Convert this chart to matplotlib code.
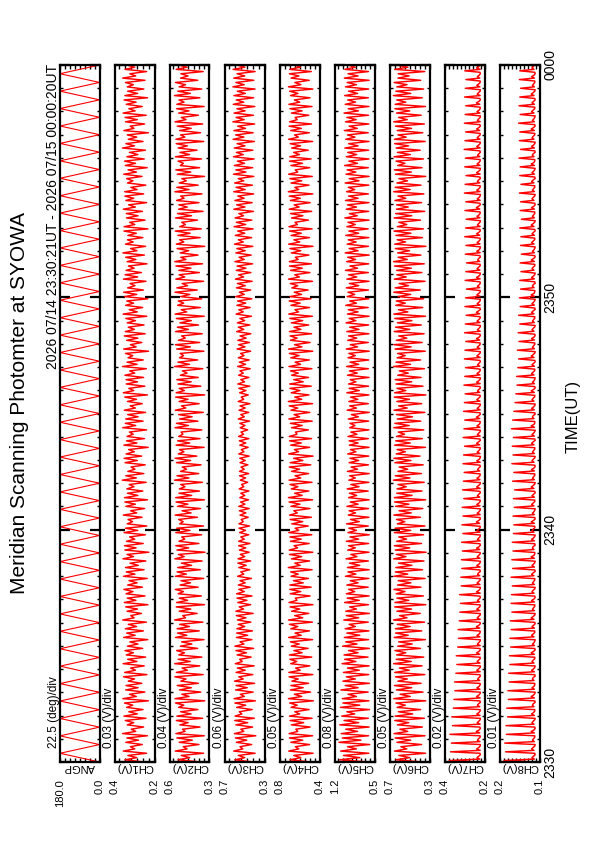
import matplotlib
matplotlib.use('Agg')
import matplotlib.pyplot as plt
import numpy as np
from matplotlib.ticker import FixedLocator

plt.rcParams['font.family'] = ['Liberation Sans', 'DejaVu Sans']

# ---------------- data ----------------
TIME_LABELS = ['2330', '2340', '2350', '0000']
TIME_TICKS = [0, 10, 20, 30]          # minutes after 23:30

ANGP = [0, 180, 0, 180, 0, 180, 0, 180, 0, 180, 0, 180, 0, 180, 0, 180, 0, 180, 0, 180,
        0, 180, 0, 180, 0, 180, 0, 180, 0, 180, 0, 180, 0, 180, 0, 180, 0, 180, 0, 180,
        0, 180, 0, 180, 0, 180, 0, 180, 0, 180, 0, 180, 0, 180, 0, 180, 0, 180, 0, 180,
        0, 180, 0, 180, 0, 180, 0, 180, 0, 180, 0, 180, 0, 180, 0, 180, 0, 180, 0, 180, 0]

# channel values in mV
CH1 = [250,350,290,335, 240,358,300,322, 262,345,281,340, 236,362,295,318, 255,338,305,348,
       243,355,287,330, 258,341,310,352, 231,360,292,327, 249,346,283,344, 264,333,301,357,
       238,351,296,321, 252,359,289,336, 245,343,307,349, 260,337,284,325, 234,356,298,341,
       256,348,291,333, 241,361,303,320, 266,339,286,346, 233,353,294,338, 248,344,309,355,
       261,336,288,329, 237,357,299,343, 253,347,282,324, 244,360,306,339, 229,350,293,352,
       257,342,300,326, 246,354,285,347, 239,338,311,334, 263,358,290,321, 250,345,297,350,
       235,352,284,337, 259,340,304,328, 242,363,292,345, 254,335,299,319, 247,349,287,354,
       265,344,302,331, 232,355,289,342, 251,339,308,327, 240,361,295,348, 258,346,283,336,
       245,353,297,323, 262,337,291,351, 236,358,305,330, 249,343,286,344, 255,350,300,325,
       241,362,288,339, 257,334,310,347, 230,356,293,322, 264,341,284,353, 247,348,302,333,
       253,338,296,345, 239,359,287,328, 260,346,306,340, 234,352,290,356, 256,336,299,324,
       243,357,285,349, 266,344,303,332, 238,339,294,346, 251,360,289,321, 245,347,308,337,
       259,335,292,355, 233,354,300,326, 248,342,283,343, 261,358,297,331, 240,345,305,350,
       255,351,288,320, 244,337,309,341, 263,356,291,334, 237,348,296,352, 252,340,284,327,
       246,362,301,345, 258,333,290,338, 231,355,304,323, 250,347,287,349, 242,359,298,330,
       262,343,293,354, 235,350,285,336, 254,338,307,347, 248,361,295,325, 240,349,300,342]

CH2 = [360,540,450,515, 345,560,470,500, 380,530,430,548, 340,555,485,505, 372,525,462,552,
       352,548,440,520, 388,535,495,558, 336,562,455,510, 366,528,438,545, 384,518,478,563,
       348,552,468,508, 374,564,446,538, 358,533,490,550, 390,522,434,512, 342,558,472,544,
       378,546,452,527, 350,565,482,503, 394,530,442,553, 338,550,466,530, 362,538,498,560,
       386,524,444,517, 344,559,476,546, 370,541,436,514, 356,563,492,536, 334,547,458,556,
       381,532,488,511, 360,556,448,549, 346,526,500,534, 392,561,440,509, 368,543,464,554,
       339,557,435,532, 376,529,486,519, 354,566,456,547, 382,520,474,507, 364,551,444,561,
       396,537,494,528, 341,554,450,542, 372,534,502,516, 358,562,460,551, 388,527,432,535,
       347,560,480,513, 379,531,463,557, 337,553,491,530, 366,539,439,548, 385,521,470,506,
       351,565,452,540, 390,528,497,523, 343,549,445,559, 374,536,484,512, 355,558,460,544,
       383,525,438,552, 340,561,473,515, 369,542,496,537, 359,519,449,562, 393,548,466,508,
       345,556,488,531, 377,533,441,555, 353,564,479,518, 387,523,458,546, 336,552,495,527,
       371,540,447,560, 362,526,483,511, 391,558,437,543, 349,535,469,533, 380,550,493,519,
       357,563,455,548, 386,530,476,510, 338,545,442,556, 375,522,498,539, 361,559,451,525,
       394,538,468,553, 344,555,487,520, 368,527,439,545, 352,562,478,514, 384,534,456,550,
       341,548,493,532, 373,566,445,541, 359,531,482,558, 389,520,463,517, 348,553,470,537]

CH3 = [410,600,500,565, 395,612,520,548, 430,585,480,595, 388,605,510,540, 420,590,470,602,
       402,598,530,555, 425,582,490,600, 392,608,505,545, 415,593,475,588, 400,604,515,560,
       418,588,495,575, 405,596,525,552, 435,578,482,590, 410,600,508,548, 428,584,470,582,
       422,580,500,566, 438,574,488,585, 415,590,512,556, 440,570,478,578, 426,583,505,560,
       445,565,495,548, 432,572,510,540, 450,560,485,570, 440,568,500,545, 455,555,490,562,
       448,562,505,540, 460,552,492,558, 452,558,515,536, 465,548,488,555, 455,560,498,542,
       462,550,500,540, 458,556,510,532, 470,545,492,552, 460,553,505,538, 468,548,495,550,
       455,560,508,535, 466,550,490,555, 458,562,512,538, 470,546,498,550, 452,565,505,540,
       460,558,495,548, 448,566,510,536, 465,552,488,560, 450,570,502,540, 458,562,515,548,
       445,572,492,555, 455,565,508,542, 440,578,498,562, 452,570,486,548, 438,582,510,565,
       448,575,500,550, 432,588,515,560, 445,580,490,572, 428,592,505,555, 440,584,495,575,
       425,595,512,562, 438,586,488,578, 420,600,505,558, 435,590,495,580, 418,604,515,565,
       430,596,500,572, 415,608,490,585, 428,598,512,560, 412,610,498,582, 425,600,506,570,
       410,612,495,588, 422,602,510,566, 408,614,488,590, 420,605,502,575, 405,615,515,585,
       418,606,498,578, 402,618,508,592, 415,610,492,572, 400,620,505,588, 412,608,496,580,
       398,616,510,586, 410,610,494,575, 396,620,505,590, 408,612,500,578, 395,618,498,585]

CH4 = [480,700,590,660, 465,712,610,645, 500,690,570,705, 470,708,620,640, 495,685,560,698,
       475,704,600,650, 505,688,625,702, 462,715,580,655, 490,695,565,690, 510,680,615,708,
       468,710,595,642, 498,692,630,700, 478,705,575,660, 515,685,605,695, 470,712,585,648,
       502,690,620,705, 472,714,570,652, 508,682,600,698, 466,709,628,645, 495,696,590,702,
       485,700,565,665, 512,688,615,692, 475,716,595,650, 500,684,580,704, 468,706,622,658,
       505,694,585,700, 478,711,610,646, 514,681,570,697, 482,703,625,660, 496,690,598,708,
       470,715,575,652, 508,686,618,699, 476,708,590,648, 510,683,602,706, 488,697,568,662,
       465,712,612,654, 500,692,585,703, 480,706,628,644, 513,684,575,695, 474,710,600,657,
       498,689,620,706, 470,716,580,650, 506,687,598,700, 484,702,565,661, 511,682,615,694,
       477,709,592,647, 503,691,606,705, 468,713,578,653, 495,694,626,698, 480,704,588,659,
       509,685,570,701, 473,711,612,649, 500,690,596,707, 486,700,582,656, 515,680,620,696,
       471,714,604,651, 497,693,574,704, 482,705,616,645, 507,686,590,699, 466,712,600,660,
       501,688,584,703, 475,709,624,648, 512,683,568,694, 479,707,606,657, 494,695,594,706,
       468,716,610,650, 506,689,580,700, 473,712,620,646, 499,690,572,704, 485,701,602,662,
       514,682,592,697, 470,713,614,653, 503,692,584,708, 481,703,626,647, 508,685,576,699,
       476,710,600,655, 496,694,618,702, 467,715,588,650, 504,688,608,705, 483,702,594,658]

CH5 = [590,1120,760,1050, 600,1100,820,980, 585,1130,740,1070, 605,1090,800,1010, 595,1115,780,1040,
       610,1080,850,990, 588,1105,760,1060, 598,1070,820,970, 612,1095,790,1020, 590,1060,840,1000,
       602,1050,770,980, 595,1075,830,1030, 615,1040,790,960, 592,1065,810,1010, 605,1035,760,990,
       598,1020,840,950, 610,1045,780,1000, 590,1010,820,940, 606,1030,770,985, 596,1000,850,960,
       612,990,790,930, 600,1015,830,970, 594,980,760,945, 608,1005,810,920, 597,975,840,960,
       604,1000,780,935, 592,970,820,955, 610,995,770,925, 599,965,835,950, 606,990,790,930,
       595,960,815,945, 611,985,775,920, 600,955,840,940, 593,980,800,915, 607,950,780,935,
       602,975,830,925, 596,945,790,950, 609,970,810,920, 598,940,845,935, 604,965,785,910,
       593,985,820,940, 610,955,795,925, 599,990,770,950, 605,960,830,930, 596,980,805,945,
       608,995,780,935, 601,970,840,955, 594,1000,800,930, 610,975,815,960, 598,990,775,940,
       603,1005,830,950, 595,980,790,965, 611,1010,820,940, 600,985,850,970, 606,1000,780,945,
       597,990,815,960, 609,1015,800,935, 602,995,835,975, 594,1020,790,950, 607,985,825,965,
       600,1010,780,955, 612,990,840,970, 596,1025,805,945, 603,1000,820,980, 598,1015,790,960,
       608,995,850,965, 601,1020,775,950, 595,1005,830,985, 610,1030,800,955, 599,1000,815,975,
       604,1025,790,960, 597,1010,845,980, 611,1035,805,950, 600,1015,825,990, 606,1040,785,965,
       598,1020,835,975, 609,1030,800,960, 602,1015,820,985, 595,1035,790,970, 607,1025,840,980]

CH6 = [360,640,500,610, 340,655,530,590, 380,630,490,648, 345,660,520,600, 372,625,510,652,
       352,648,470,615, 390,628,545,640, 338,662,495,598, 366,635,480,655, 385,620,525,645,
       348,652,505,605, 375,664,485,638, 358,633,540,650, 392,622,475,612, 342,658,515,644,
       378,646,495,627, 350,665,528,603, 394,630,482,653, 338,650,510,630, 362,638,548,660,
       386,624,488,617, 344,659,520,646, 370,641,478,614, 356,663,538,636, 334,647,500,656,
       381,632,532,611, 360,656,490,649, 346,626,550,634, 392,661,485,609, 368,643,508,654,
       339,657,476,632, 376,629,535,619, 354,666,498,647, 382,620,520,607, 364,651,488,661,
       396,637,544,628, 341,654,495,642, 372,634,552,616, 358,662,505,651, 388,627,472,635,
       347,660,526,613, 379,631,503,657, 337,653,540,630, 366,639,480,648, 385,621,515,606,
       351,665,492,640, 390,628,546,623, 343,649,486,659, 374,636,530,612, 355,658,500,644,
       383,625,478,652, 340,661,518,615, 369,642,545,637, 359,619,490,662, 393,648,512,608,
       345,656,535,631, 377,633,484,655, 353,664,525,618, 387,623,502,646, 336,652,542,627,
       371,640,488,660, 362,626,530,611, 391,658,480,643, 349,635,515,633, 380,650,540,619,
       357,663,496,648, 386,630,522,610, 338,645,484,656, 375,622,548,639, 361,659,494,625,
       394,638,512,653, 344,655,536,620, 368,627,482,645, 352,662,525,614, 384,634,500,650,
       341,648,540,632, 373,666,490,641, 359,631,528,658, 389,620,506,617, 348,653,518,637]

CH7 = [222,378,224,238,229,221, 223,372,222,240,228,222, 221,368,223,236,230,222, 222,375,224,241,227,221, 223,362,222,237,229,222,
       221,366,223,239,228,222, 222,358,224,236,230,221, 223,355,222,240,229,222, 221,350,223,238,227,222, 222,352,224,235,228,221,
       223,345,222,239,229,222, 221,340,223,237,230,222, 222,343,224,240,228,221, 223,336,222,236,229,222, 221,332,223,238,227,222,
       222,334,224,241,228,221, 223,328,222,237,230,222, 221,325,223,239,229,222, 222,322,224,236,227,221, 223,326,222,240,228,222,
       221,318,223,238,229,222, 222,320,224,235,230,221, 223,315,222,239,228,222, 221,317,223,237,229,222, 222,312,224,240,227,221,
       223,316,222,236,228,222, 221,310,223,238,230,222, 222,314,224,241,229,221, 223,309,222,237,227,222, 221,313,223,239,228,222,
       222,305,224,236,229,221, 223,311,222,240,230,222, 221,307,223,238,228,222, 222,303,224,235,229,221, 223,309,222,239,227,222,
       221,306,223,237,228,222, 222,301,224,240,230,221, 223,308,222,236,229,222, 221,304,223,238,227,222, 222,300,224,241,228,221,
       223,306,222,237,229,222, 221,302,223,239,230,222, 222,298,224,236,228,221, 223,304,222,240,229,222, 221,300,223,238,227,222,
       222,296,224,235,228,221, 223,302,222,239,230,222, 221,299,223,237,229,222, 222,295,224,240,227,221, 223,301,222,236,228,222,
       221,297,223,238,229,222, 222,293,224,241,230,221, 223,299,222,237,228,222, 221,296,223,239,229,222, 222,292,224,236,227,221,
       223,298,222,240,228,222, 221,295,223,238,230,222, 222,291,224,235,229,221, 223,297,222,239,227,222, 221,294,223,237,228,222,
       222,300,224,240,229,221, 223,296,222,236,230,222, 221,293,223,238,228,222, 222,299,224,241,229,221, 223,295,222,237,227,222,
       221,302,223,239,228,222, 222,298,224,236,230,221, 223,294,222,240,229,222, 221,300,223,238,227,222, 222,297,224,235,228,221,
       223,303,222,239,229,222, 221,299,223,237,230,222, 222,296,224,240,228,221, 223,302,222,236,229,222, 221,298,223,238,227,222,
       222,295,224,241,228,221, 223,301,222,237,230,222, 221,297,223,239,229,222, 222,294,224,236,227,221, 223,300,222,240,228,222]

CH8 = [112,190,113,119,115,111, 112,186,114,120,116,112, 111,188,113,118,115,112, 112,184,113,121,114,111, 112,185,114,119,116,112,
       111,181,113,120,115,112, 112,183,114,118,116,111, 112,179,113,121,115,112, 111,180,113,119,114,112, 112,177,114,118,116,111,
       112,178,113,120,115,112, 111,175,114,119,116,112, 112,176,113,121,115,111, 112,173,113,118,114,112, 111,175,114,120,116,112,
       112,172,113,119,115,111, 112,174,114,121,116,112, 111,170,113,118,115,112, 112,172,113,120,114,111, 112,171,114,119,116,112,
       111,169,113,118,115,112, 112,172,114,120,116,111, 112,168,113,119,115,112, 111,170,113,121,114,112, 112,167,114,118,116,111,
       112,169,113,120,115,112, 111,166,114,119,116,112, 112,165,113,121,115,111, 112,167,113,118,114,112, 111,164,114,120,116,112,
       112,166,113,119,115,111, 112,163,114,121,116,112, 111,168,113,118,115,112, 112,165,113,120,114,111, 112,170,114,119,116,112,
       111,167,113,118,115,112, 112,169,114,120,116,111, 112,166,113,119,115,112, 111,171,113,121,114,112, 112,168,114,118,116,111,
       112,165,113,120,115,112, 111,162,114,119,116,112, 112,160,113,121,115,111, 112,157,113,118,114,112, 111,158,114,120,116,112,
       112,155,113,119,115,111, 112,153,114,121,116,112, 111,156,113,118,115,112, 112,152,113,120,114,111, 112,154,114,119,116,112,
       111,150,113,118,115,112, 112,153,114,120,116,111, 112,149,113,119,115,112, 111,151,113,121,114,112, 112,148,114,118,116,111,
       112,150,113,120,115,112, 111,147,114,119,116,112, 112,149,113,121,115,111, 112,146,113,118,114,112, 111,148,114,120,116,112,
       112,147,113,119,115,111, 112,150,114,121,116,112, 111,146,113,118,115,112, 112,149,113,120,114,111, 112,148,114,119,116,112,
       111,151,113,118,115,112, 112,147,114,120,116,111, 112,150,113,119,115,112, 111,149,113,121,114,112, 112,152,114,118,116,111,
       112,148,113,120,115,112, 111,151,114,119,116,112, 112,150,113,121,115,111, 112,153,113,118,114,112, 111,149,114,120,116,112,
       112,152,113,119,115,111, 112,150,114,121,116,112, 111,148,113,118,115,112, 112,151,113,120,114,111, 112,150,114,119,116,112]

# (label, values, scale, vmin, vmax, div, top label, bottom label, div text)
PANELS = [
    ('ANGP',   ANGP, 1.0,   0.0, 180.0, 22.5, '180.0', '0.0', '22.5 (deg)/div'),
    ('CH1(V)', CH1, 1e-3,   0.2, 0.4, 0.03, '0.4', '0.2', '0.03 (V)/div'),
    ('CH2(V)', CH2, 1e-3,   0.3, 0.6, 0.04, '0.6', '0.3', '0.04 (V)/div'),
    ('CH3(V)', CH3, 1e-3,   0.3, 0.7, 0.06, '0.7', '0.3', '0.06 (V)/div'),
    ('CH4(V)', CH4, 1e-3,   0.4, 0.8, 0.05, '0.8', '0.4', '0.05 (V)/div'),
    ('CH5(V)', CH5, 1e-3,   0.5, 1.2, 0.08, '1.2', '0.5', '0.08 (V)/div'),
    ('CH6(V)', CH6, 1e-3,   0.3, 0.7, 0.05, '0.7', '0.3', '0.05 (V)/div'),
    ('CH7(V)', CH7, 1e-3,   0.2, 0.4, 0.02, '0.4', '0.2', '0.02 (V)/div'),
    ('CH8(V)', CH8, 1e-3,   0.1, 0.2, 0.01, '0.2', '0.1', '0.01 (V)/div'),
]

# ---------------- layout ----------------
W, H = 595, 842
fig = plt.figure(figsize=(W / 100, H / 100), dpi=100)
fig.patch.set_facecolor('white')

def fx(px):
    return px / W

def fy(py):
    return 1 - py / H

TOP, BOT = 65, 762
LEFT0, PITCH, BW = 60, 55, 39.5
RED = '#ff0000'

axes = []
for i, (lab, vals, sc, vmin, vmax, div, tl, bl, dtxt) in enumerate(PANELS):
    left = LEFT0 + PITCH * i
    ax = fig.add_axes([fx(left), fy(BOT), BW / W, (BOT - TOP) / H])
    v = np.asarray(vals, dtype=float) * sc
    t = np.linspace(0, 30, len(v))
    ax.plot(v, t, color=RED, lw=0.8 if i == 0 else 1.05)
    ax.set_xlim(vmax, vmin)
    ax.set_ylim(0, 30)
    for s in ax.spines.values():
        s.set_linewidth(1.6)
    # value-axis ticks (top / bottom edges)
    ax.xaxis.set_major_locator(FixedLocator([]))
    ax.xaxis.set_minor_locator(FixedLocator(list(np.arange(vmin, vmax + 1e-9, div))))
    ax.tick_params(axis='x', which='minor', direction='in', length=3, width=1.0,
                   top=True, bottom=True)
    ax.tick_params(axis='x', labelbottom=False)
    # time-axis ticks
    ax.yaxis.set_major_locator(FixedLocator(TIME_TICKS))
    ax.yaxis.set_minor_locator(FixedLocator(list(range(0, 31))))
    ax.tick_params(axis='y', which='major', direction='in', length=7, width=1.6,
                   left=True, right=True)
    ax.tick_params(axis='y', which='minor', direction='in', length=2.5, width=1.0,
                   left=True, right=True)
    ax.tick_params(axis='y', labelleft=False, labelright=False)
    axes.append(ax)

    # texts
    fig.text(fx(left - 6), fy(748), dtxt, rotation=90, ha='center', va='bottom', fontsize=8.5)
    fig.text(fx(left + BW / 2), fy(767), lab, rotation=180, ha='center', va='center', fontsize=8)
    fig.text(fx(left), fy(779), tl, rotation=90, ha='center', va='top', fontsize=8)
    fig.text(fx(left + BW), fy(779), bl, rotation=90, ha='center', va='top', fontsize=8)

last = axes[-1]
last.set_yticks(TIME_TICKS)
last.set_yticklabels(TIME_LABELS)
last.tick_params(axis='y', labelright=True, labelrotation=90, labelsize=10, pad=3)
for lbl in last.get_yticklabels():
    lbl.set_va('center')
    lbl.set_ha('left')

fig.text(fx(573), fy(416), 'TIME(UT)', rotation=90, ha='center', va='center', fontsize=12)
fig.text(fx(20), fy(403), 'Meridian Scanning Photomter at SYOWA', rotation=90,
         ha='center', va='center', fontsize=15)
fig.text(fx(53), fy(64), '2026 07/14 23:30:21UT - 2026 07/15 00:00:20UT', rotation=90,
         ha='center', va='top', fontsize=10)

fig.savefig('out.png', dpi=100, facecolor='white')
